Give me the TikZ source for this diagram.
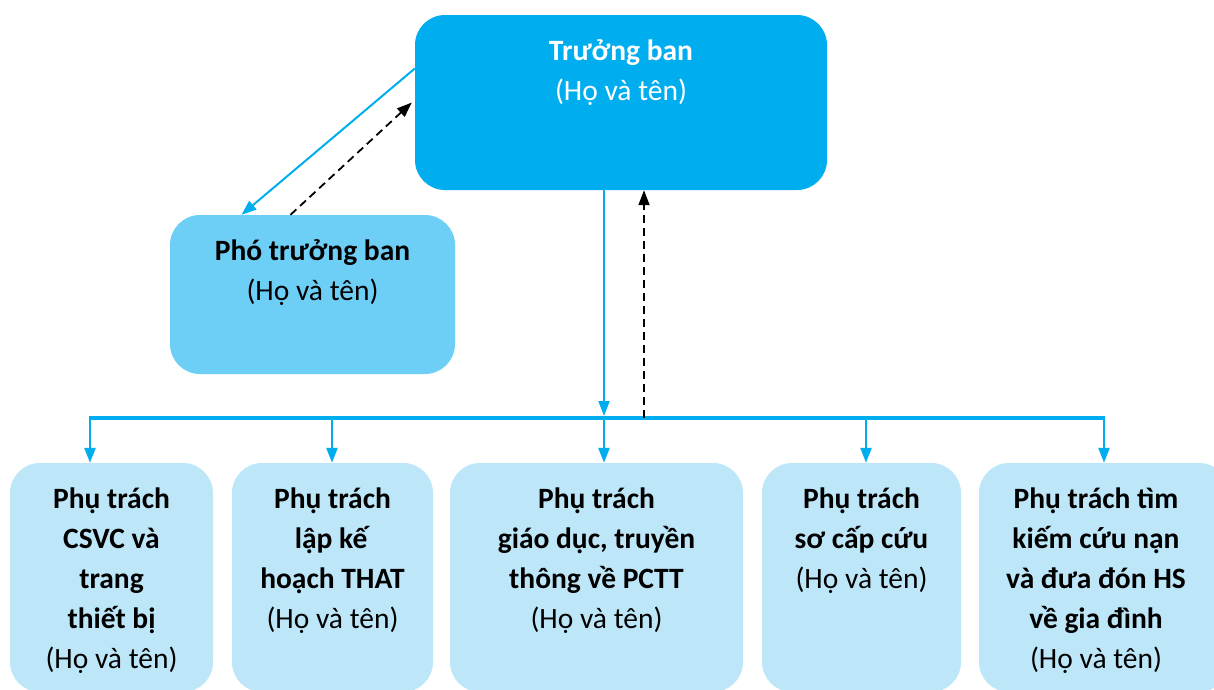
\documentclass[tikz,border=0pt]{standalone}
\usepackage{fontspec}
\setmainfont{Carlito}
\usepackage{tikz}
\usetikzlibrary{positioning}
\usetikzlibrary{arrows.meta}

\definecolor{headblue}{HTML}{00AEEF}
\definecolor{deputyblue}{HTML}{6DCFF6}
\definecolor{cellblue}{HTML}{BDE6F8}

\begin{document}
\begin{tikzpicture}[x=1pt, y=-1pt,
        card/.style={rounded corners=30pt, inner sep=0pt},
        cell/.style={card, fill=cellblue, minimum height=229pt},
        txt/.style={align=center, inner sep=0pt, font=\fontsize{29.5}{40}\selectfont},
        feed/.style={draw=headblue, line width=2.5pt, -{Triangle[length=15pt, width=11pt]}},
        report/.style={draw=black, line width=1.8pt, dash pattern=on 8pt off 5pt, -{Triangle[length=15pt, width=11pt]}}]
        \clip (0, 0) rectangle (1214, 689);
        % top level
        \node(head) [card, fill=headblue, minimum width=412pt, minimum height=175pt] at (621, 102.5) {};
        \node(headt) [txt, text=white, below=25pt of head.north] {\textbf{Trưởng ban}\\(Họ và tên)};
        \node(deputy) [card, fill=deputyblue, minimum width=285pt, minimum height=159pt] at (312.5, 294.5) {};
        \node(deputyt) [txt, below=25pt of deputy.north] {\textbf{Phó trưởng ban}\\(Họ và tên)};
        % members
        \node(b1) [cell, minimum width=203pt] at (111.5, 577.5) {};
        \node(b2) [cell, minimum width=201pt] at (332.5, 577.5) {};
        \node(b3) [cell, minimum width=293pt] at (596.5, 577.5) {};
        \node(b4) [cell, minimum width=199pt] at (861.5, 577.5) {};
        \node(b5) [cell, minimum width=250pt] at (1104, 577.5) {};
        \node(t1) [txt, below=25pt of b1.north] {\textbf{Phụ trách}\\\textbf{CSVC và}\\\textbf{trang}\\\textbf{thiết bị}\\(Họ và tên)};
        \node(t2) [txt, below=25pt of b2.north] {\textbf{Phụ trách}\\\textbf{lập kế}\\\textbf{hoạch THAT}\\(Họ và tên)};
        \node(t3) [txt, below=25pt of b3.north] {\textbf{Phụ trách}\\\textbf{giáo dục, truyền}\\\textbf{thông về PCTT}\\(Họ và tên)};
        \node(t4) [txt, below=25pt of b4.north] {\textbf{Phụ trách}\\\textbf{sơ cấp cứu}\\(Họ và tên)};
        \node(t5) [txt, below=25pt of b5.north, xshift=-8pt] {\textbf{Phụ trách tìm}\\\textbf{kiếm cứu nạn}\\\textbf{và đưa đón HS}\\\textbf{về gia đình}\\(Họ và tên)};
        % bus
        \coordinate(j1) at (90, 418);
        \coordinate(j2) at (332, 418);
        \coordinate(j3) at (604, 418);
        \coordinate(j4) at (866, 418);
        \coordinate(j5) at (1104, 418);
        \coordinate(jd) at (644, 418);
        \draw[draw=headblue, line width=4pt] ([xshift=-1.2pt]j1) -- ([xshift=1.2pt]j5);
        \draw[feed] (j1) -- (j1 |- b1.north);
        \draw[feed] (j2) -- (j2 |- b2.north);
        \draw[feed] (j3) -- (j3 |- b3.north);
        \draw[feed] (j4) -- (j4 |- b4.north);
        \draw[feed] (j5) -- (j5 |- b5.north);
        \draw[feed, line width=2pt] (head.south -| j3) -- ([yshift=2pt]j3);
        \draw[report] (jd) -- (head.south -| jd);
        % deputy links
        \draw[feed, line width=2pt] ([yshift=34pt]head.west) -- ([xshift=-71pt]deputy.north);
        \draw[report] ([xshift=-22pt]deputy.north) -- ([xshift=-3pt]head.west);
    \end{tikzpicture}
\end{document}
